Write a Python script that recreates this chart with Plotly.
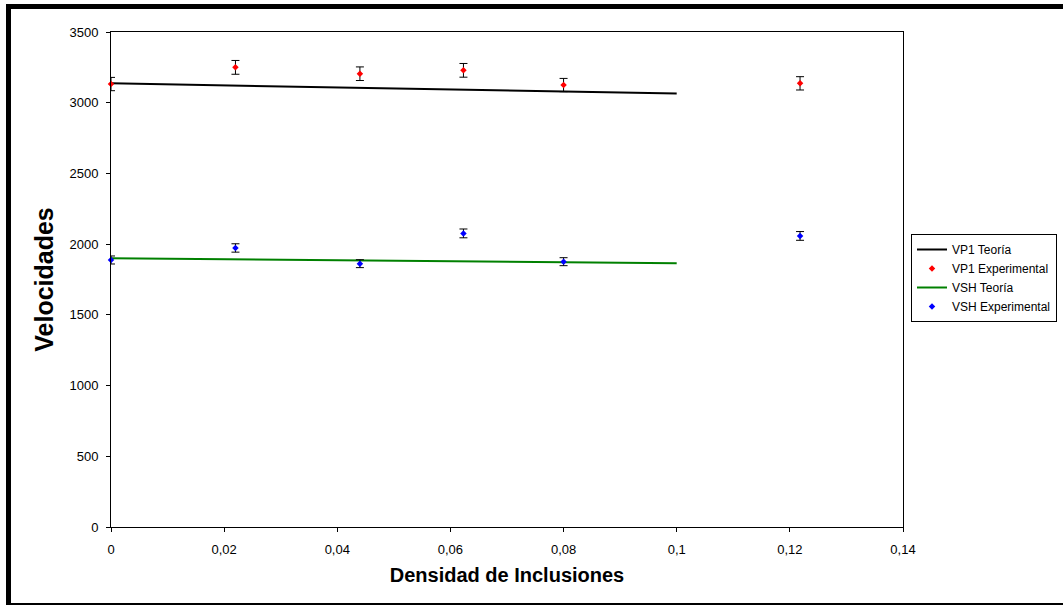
import plotly.graph_objects as go

# ---- data ----
theory_x = [0, 0.02, 0.04, 0.06, 0.08, 0.1]
vp1_theory = [3137, 3123, 3109, 3095, 3080, 3066]
vsh_theory = [1900, 1893, 1886, 1879, 1872, 1865]

exp_x = [0, 0.022, 0.044, 0.0623, 0.08, 0.1218]
vp1_exp = [3132, 3250, 3205, 3229, 3125, 3137]
vsh_exp = [1888, 1973, 1862, 2076, 1876, 2058]
err_percent = 1.5

x_ticks = [0, 0.02, 0.04, 0.06, 0.08, 0.1, 0.12, 0.14]
y_ticks = [0, 500, 1000, 1500, 2000, 2500, 3000, 3500]

FONT = "Liberation Sans, Arial, sans-serif"

fig = go.Figure()
fig.add_trace(go.Scatter(
    x=theory_x, y=vp1_theory, mode="lines", name="VP1 Teoría",
    line=dict(color="#000000", width=2)))
fig.add_trace(go.Scatter(
    x=exp_x, y=vp1_exp, mode="markers", name="VP1 Experimental",
    marker=dict(symbol="diamond", size=5, color="#FF0000"),
    error_y=dict(type="percent", value=err_percent, color="#000000",
                 thickness=1, width=4),
    cliponaxis=False))
fig.add_trace(go.Scatter(
    x=theory_x, y=vsh_theory, mode="lines", name="VSH Teoría",
    line=dict(color="#008000", width=2)))
fig.add_trace(go.Scatter(
    x=exp_x, y=vsh_exp, mode="markers", name="VSH Experimental",
    marker=dict(symbol="diamond", size=5, color="#0000FF"),
    error_y=dict(type="percent", value=err_percent, color="#000000",
                 thickness=1, width=4),
    cliponaxis=False))

# plot area in pixels: x 111..903, y 32..527
L, R, T, B = 111, 160, 32, 79
W, H = 1063, 606
PW, PH = W - L - R, H - T - B


def px(xp):
    return (xp - L) / PW


def py(yp):
    return (H - B - yp) / PH


shapes = [
    # thick top border
    dict(type="rect", xref="paper", yref="paper",
         x0=px(6), x1=px(1063), y0=py(9), y1=py(4),
         fillcolor="#000000", line=dict(width=0), layer="above"),
    # thick left border
    dict(type="rect", xref="paper", yref="paper",
         x0=px(6), x1=px(11), y0=py(605), y1=py(4),
         fillcolor="#000000", line=dict(width=0), layer="above"),
    # thin bottom border
    dict(type="rect", xref="paper", yref="paper",
         x0=px(6), x1=px(1063), y0=py(605), y1=py(603),
         fillcolor="#000000", line=dict(width=0), layer="above"),
]

fig.update_layout(
    width=W, height=H,
    margin=dict(l=L, r=R, t=T, b=B, pad=0, autoexpand=False),
    paper_bgcolor="#FFFFFF", plot_bgcolor="#FFFFFF",
    separators=",.",
    font=dict(family=FONT, size=13, color="#000000"),
    showlegend=True,
    legend=dict(
        xref="container", yref="container",
        x=1057 / W, xanchor="right", y=1 - 234 / H, yanchor="top",
        bgcolor="#FFFFFF", bordercolor="#000000", borderwidth=1,
        font=dict(family=FONT, size=12, color="#000000"),
        tracegroupgap=0, itemwidth=30),
    shapes=shapes,
    xaxis=dict(
        range=[0, 0.14], tickmode="array", tickvals=x_ticks,
        showgrid=False, zeroline=False, automargin=False,
        showline=True, linecolor="#000000", linewidth=1, mirror=True,
        ticks="outside", ticklen=4, tickcolor="#000000", tickwidth=1,
        ticklabelstandoff=6,
        tickfont=dict(family=FONT, size=13, color="#000000"),
        title=dict(text="<b>Densidad de Inclusiones</b>", standoff=12,
                   font=dict(family=FONT, size=20, color="#000000"))),
    yaxis=dict(
        range=[0, 3500], tickmode="array", tickvals=y_ticks,
        showgrid=False, zeroline=False, automargin=False,
        showline=True, linecolor="#000000", linewidth=1, mirror=True,
        ticks="outside", ticklen=4, tickcolor="#000000", tickwidth=1,
        ticklabelstandoff=5,
        tickfont=dict(family=FONT, size=13, color="#000000"),
        title=dict(text="<b>Velocidades</b>", standoff=8,
                   font=dict(family=FONT, size=25, color="#000000"))),
)

fig.write_html("out.html")
